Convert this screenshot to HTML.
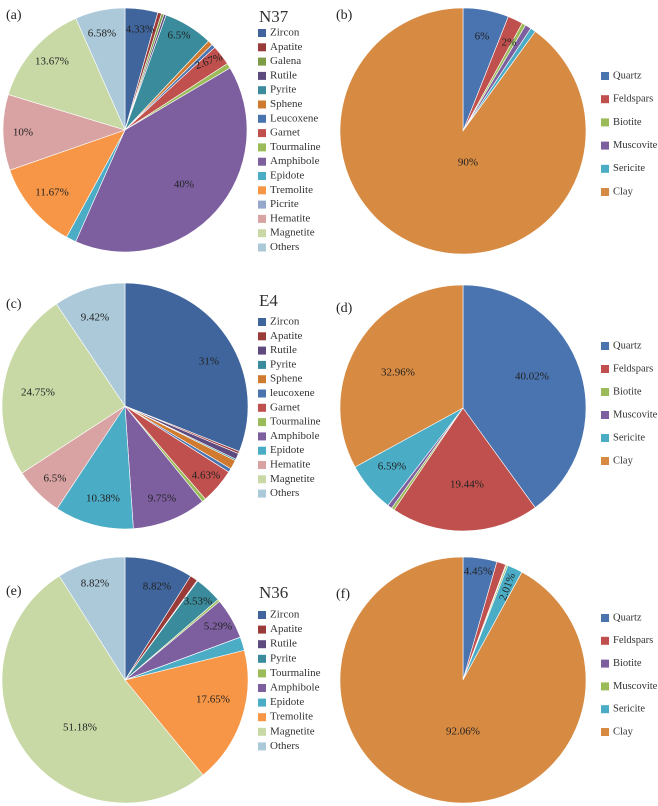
<!DOCTYPE html>
<html><head><meta charset="utf-8">
<style>
html,body{margin:0;padding:0;background:#fff;}
svg{display:block;font-family:"Liberation Serif",serif;}
</style></head>
<body>
<svg id="s" width="658" height="806" viewBox="0 0 658 806" xmlns="http://www.w3.org/2000/svg"></svg>
<script>
const C={zir:"#3f659c",apa:"#9b3b39",gal:"#7e9b46",rut:"#5f4a80",pyr:"#3a8b9b",sph:"#d07a30",leu:"#4a74b0",gar:"#c0504d",tou:"#9bbb59",amp:"#7d5fa0",epi:"#4bacc6",tre:"#f79646",pic:"#95a8cc",hem:"#d8a3a2",mag:"#c8d9a6",oth:"#abc9d9",
qua:"#4a74b0",fel:"#c0504d",bio:"#9bbb59",mus:"#7d5fa0",ser:"#4bacc6",cla:"#d78a42"};
const svg=document.getElementById('s');let h='';
function pie(cx,cy,r,data){
 let tot=data.reduce((a,d)=>a+d[1],0),a=0;
 for(const d of data){
  const a0=a/tot*2*Math.PI;a+=d[1];const a1=a/tot*2*Math.PI;
  const x0=cx+r*Math.sin(a0),y0=cy-r*Math.cos(a0),x1=cx+r*Math.sin(a1),y1=cy-r*Math.cos(a1);
  const lg=(a1-a0)>Math.PI?1:0;
  h+=`<path d="M${cx},${cy}L${x0.toFixed(2)},${y0.toFixed(2)}A${r},${r} 0 ${lg} 1 ${x1.toFixed(2)},${y1.toFixed(2)}Z" fill="${d[2]}" stroke="#fff" stroke-width="0.6"/>`;
 }
}
function lab(x,y,t,rot){h+=`<text x="${x}" y="${y}" font-size="11" text-anchor="middle" dominant-baseline="middle" fill="#222"${rot?` transform="rotate(${rot} ${x} ${y})"`:''}>${t}</text>`;}
function leg(x,y0,dy,items,fs){fs=fs||11;items.forEach((it,i)=>{const y=y0+i*dy;h+=`<rect x="${x}" y="${y-4}" width="8" height="8" fill="${it[1]}"/><text x="${x+12}" y="${y}" font-size="${fs}" dominant-baseline="middle" fill="#333">${it[0]}</text>`;});}
function tag(x,y,t){h+=`<text x="${x}" y="${y}" font-size="14" fill="#222">${t}</text>`;}
// (a)
const A=[["Zircon",4.33,C.zir],["Apatite",0.5,C.apa],["Galena",0.33,C.gal],["Rutile",0.3,C.rut],["Pyrite",6.5,C.pyr],["Sphene",0.67,C.sph],["Leucoxene",0.5,C.leu],["Garnet",2.67,C.gar],["Tourmaline",0.67,C.tou],["Amphibole",40,C.amp],["Epidote",1.33,C.epi],["Tremolite",11.67,C.tre],["Picrite",0.01,C.pic],["Hematite",10,C.hem],["Magnetite",13.67,C.mag],["Others",6.58,C.oth]];
pie(125,130,122,A);
lab(140,30,"4.33%");lab(179,36,"6.5%");lab(209,62,"2.67%",-20);lab(184,185,"40%");lab(52,193,"11.67%");lab(23,133,"10%");lab(52,62,"13.67%");lab(102,34,"6.58%");
leg(258,33,14.3,A.map(d=>[d[0],d[2]]));
h+=`<text x="259" y="22" font-size="17" fill="#333">N37</text>`;tag(6,19,"(a)");
// (b)
const B=[["Quartz",6,C.qua],["Feldspars",2,C.fel],["Biotite",0.5,C.bio],["Muscovite",0.8,C.mus],["Sericite",0.7,C.ser],["Clay",90,C.cla]];
pie(463,131,123,B);
lab(482,37,"6%");lab(509,43,"2%");lab(468,163,"90%");
leg(601,76,23.2,B.map(d=>[d[0],d[2]]),10.5);tag(336,19,"(b)");
// (c)
const Cc=[["Zircon",31,C.zir],["Apatite",0.3,C.apa],["Rutile",0.8,C.rut],["Pyrite",0.2,C.pyr],["Sphene",1.2,C.sph],["leucoxene",0.5,C.leu],["Garnet",4.63,C.gar],["Tourmaline",0.5,C.tou],["Amphibole",9.75,C.amp],["Epidote",10.38,C.epi],["Hematite",6.5,C.hem],["Magnetite",24.75,C.mag],["Others",9.42,C.oth]];
pie(125,406,123,Cc);
lab(95,318,"9.42%");lab(209,362,"31%");lab(38,393,"24.75%");lab(206,476,"4.63%");lab(162,499,"9.75%");lab(103,499,"10.38%");lab(55,479,"6.5%");
leg(258,322,14.3,Cc.map(d=>[d[0],d[2]]));
h+=`<text x="259" y="306" font-size="17" fill="#333">E4</text>`;tag(6,308,"(c)");
// (d)
const D=[["Quartz",40.02,C.qua],["Feldspars",19.44,C.fel],["Biotite",0.4,C.bio],["Muscovite",0.59,C.mus],["Sericite",6.59,C.ser],["Clay",32.96,C.cla]];
pie(463,408,123,D);
lab(398,373,"32.96%");lab(532,377,"40.02%");lab(392,467,"6.59%");lab(467,485,"19.44%");
leg(601,346,23,D.map(d=>[d[0],d[2]]),10.5);tag(336,312,"(d)");
// (e)
const E=[["Zircon",8.82,C.zir],["Apatite",1.0,C.apa],["Rutile",0.1,C.rut],["Pyrite",3.53,C.pyr],["Tourmaline",0.3,C.tou],["Amphibole",5.29,C.amp],["Epidote",1.76,C.epi],["Tremolite",17.65,C.tre],["Magnetite",51.18,C.mag],["Others",8.82,C.oth]];
pie(125,680,123,E);
lab(95,584,"8.82%");lab(157,587,"8.82%");lab(198,602,"3.53%");lab(218,627,"5.29%");lab(213,700,"17.65%");lab(80,728,"51.18%");
leg(258,615,14.6,E.map(d=>[d[0],d[2]]));
h+=`<text x="259" y="598" font-size="17" fill="#333">N36</text>`;tag(6,595,"(e)");
// (f)
const F=[["Quartz",4.45,C.qua],["Feldspars",1.2,C.fel],["Biotite",0.1,C.mus],["Muscovite",0.2,C.bio],["Sericite",2.01,C.ser],["Clay",92.06,C.cla]];
pie(463,680,123,F);
lab(478,572,"4.45%");lab(508,587,"2.01%",-70);lab(463,732,"92.06%");
leg(601,618,22.8,F.map(d=>[d[0],d[2]]),10.5);tag(336,598,"(f)");
svg.innerHTML=h;
</script>
</body></html>
